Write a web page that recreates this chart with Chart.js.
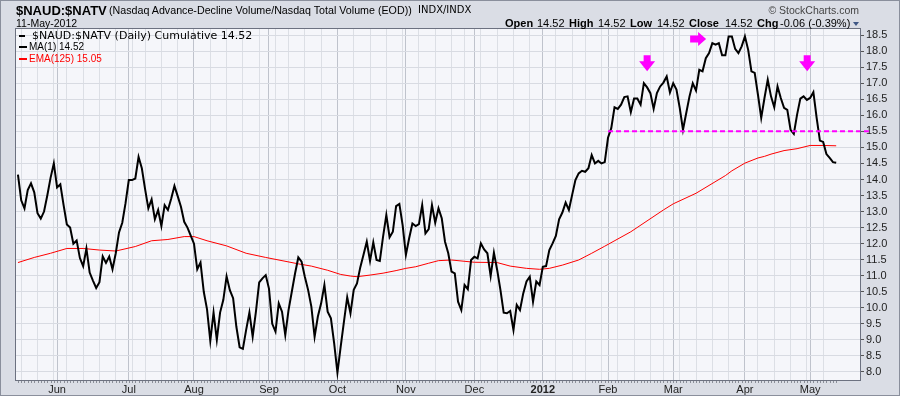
<!DOCTYPE html>
<html><head><meta charset="utf-8">
<script src="https://cdn.jsdelivr.net/npm/chart.js@4.4.1/dist/chart.umd.min.js"></script>
<style>
html,body{margin:0;padding:0;}
body{width:900px;height:396px;overflow:hidden;position:relative;background:#dadde5;font-family:"Liberation Sans",Arial,sans-serif;}
#frame{position:absolute;left:0;top:0;width:898px;height:394px;border:1px solid #8a8f9c;}
canvas{position:absolute;left:0;top:0;display:block;}
.t{position:absolute;white-space:nowrap;color:#000;line-height:1;}
.dash{position:absolute;height:2px;}
</style></head><body>
<div id="frame"></div>
<canvas id="c" width="900" height="396"></canvas>
<div class="t" style="left:16px;top:3.5px;font-size:13px;font-weight:bold">$NAUD:$NATV</div>
<div class="t" style="left:109px;top:4.8px;font-size:10.7px">(Nasdaq Advance-Decline Volume/Nasdaq Total Volume (EOD))</div>
<div class="t" style="left:418px;top:5.2px;font-size:10px;font-family:'DejaVu Sans'">INDX/INDX</div>
<div class="t" style="left:16px;top:18.3px;font-size:10.5px">11-May-2012</div>
<div class="t" style="right:41px;top:4.6px;font-size:10.5px;color:#444">© StockCharts.com</div>
<div class="t" style="left:505px;top:18.4px;font-size:11px;font-weight:bold">Open</div>
<div class="t" style="left:537px;top:18.4px;font-size:11px">14.52</div>
<div class="t" style="left:569px;top:18.4px;font-size:11px;font-weight:bold">High</div>
<div class="t" style="left:598px;top:18.4px;font-size:11px">14.52</div>
<div class="t" style="left:630px;top:18.4px;font-size:11px;font-weight:bold">Low</div>
<div class="t" style="left:657px;top:18.4px;font-size:11px">14.52</div>
<div class="t" style="left:689px;top:18.4px;font-size:11px;font-weight:bold">Close</div>
<div class="t" style="left:725px;top:18.4px;font-size:11px">14.52</div>
<div class="t" style="left:757px;top:18.4px;font-size:11px;font-weight:bold">Chg</div>
<div class="t" style="left:780px;top:18.4px;font-size:11px">-0.06 (-0.39%)</div>
<div style="position:absolute;left:853px;top:22px;width:0;height:0;border-left:3px solid transparent;border-right:3px solid transparent;border-top:4px solid #3f5785;"></div>
<div class="dash" style="left:19px;top:35px;width:6px;background:#000"></div>
<div class="t" style="left:32px;top:30.2px;font-size:11px;font-family:'DejaVu Sans'">$NAUD:$NATV (Daily) Cumulative 14.52</div>
<div class="dash" style="left:19px;top:46px;width:8px;background:#000"></div>
<div class="t" style="left:29px;top:41.7px;font-size:10px">MA(1) 14.52</div>
<div class="dash" style="left:19px;top:58px;width:8px;background:#ff0000"></div>
<div class="t" style="left:29px;top:53.7px;font-size:10px;color:#ff0000">EMA(125) 15.05</div>
<script>
// ---- data (trading-day index 0 = 13-May-2011 ... 251 = 11-May-2012) ----
const values = [
14.15,13.35,13.1,13.67,13.88,13.6,12.95,12.78,13.0,13.5,
14.05,14.5,13.75,13.85,13.2,12.6,12.5,12.0,12.1,11.55,
11.3,11.85,11.1,10.85,10.62,10.8,11.6,11.4,11.6,11.2,
11.7,12.35,12.65,13.26,13.98,13.98,14.03,14.7,14.35,13.7,
13.1,13.38,12.76,13.05,12.55,13.2,13.05,13.4,13.8,13.48,
13.15,12.68,12.5,12.25,12.0,11.2,11.41,10.5,9.95,8.97,
9.85,9.0,9.85,10.25,10.98,10.55,10.3,9.41,8.77,8.72,
9.31,9.85,9.1,9.88,10.79,10.92,11.02,10.6,9.5,9.26,
10.14,9.88,9.15,9.93,10.5,11.07,11.57,11.44,10.97,10.56,
10.04,9.1,9.73,10.14,10.71,9.88,9.67,8.89,7.98,8.79,
9.57,10.33,9.83,10.56,10.76,11.26,11.65,12.06,11.46,12.04,
11.49,11.46,12.22,12.89,12.2,12.37,13.17,13.24,12.58,11.65,
12.17,12.63,12.55,12.61,13.2,12.32,12.45,13.2,12.65,13.1,
12.79,12.06,11.7,11.13,11.07,10.19,9.93,10.71,10.58,11.49,
11.59,11.54,12.01,11.82,11.7,10.99,11.72,11.18,10.56,9.85,
9.83,9.9,9.31,10.09,9.93,10.45,10.82,10.97,10.19,10.82,
10.71,11.28,11.3,11.8,12.01,12.24,12.76,12.97,13.28,13.05,
13.52,13.98,14.19,14.27,14.24,14.35,14.76,14.5,14.58,14.5,
14.54,15.3,15.6,16.25,16.2,16.33,16.57,16.59,16.1,16.52,
16.52,16.33,17.0,16.87,16.69,16.2,16.69,16.9,17.02,17.21,
16.71,17.0,16.8,16.23,15.55,16.07,16.59,17.0,16.77,17.42,
17.37,17.78,17.94,18.25,18.2,18.25,17.87,17.87,18.46,18.46,
18.07,17.94,18.15,18.46,18.04,17.37,17.32,16.64,15.92,16.54,
17.11,16.59,16.25,16.9,16.54,16.23,16.17,15.55,15.42,16.02,
16.52,16.59,16.48,16.54,16.72,15.92,15.21,15.17,14.79,14.67,
14.54,14.52
];
const emaDays = [0,5,10,15,20,25,30,36,41,46,51,54,58,64,70,76,81,86,90,95,99,102,104,108,112,116,119,122,126,129,133,140,147,151,156,160,163,167,172,176,180,188,198,201,208,217,219,223,227,229,231,235,239,243,247,251];
const emaValues = [11.41,11.57,11.70,11.85,11.85,11.80,11.77,11.91,12.09,12.13,12.22,12.22,12.09,11.93,11.70,11.57,11.47,11.37,11.30,11.17,11.04,10.99,10.97,11.02,11.08,11.16,11.23,11.28,11.39,11.47,11.49,11.42,11.41,11.30,11.23,11.20,11.23,11.33,11.49,11.70,11.92,12.37,13.05,13.24,13.57,14.12,14.27,14.51,14.67,14.72,14.79,14.90,14.96,15.06,15.06,15.05];
const monthIdx = [12,34,54,77,98,119,140,161,181,201,223,243];
const monthLabels = ['Jun','Jul','Aug','Sep','Oct','Nov','Dec','2012','Feb','Mar','Apr','May'];
const weekIdx = [1,6,11,15,20,25,30,35,39,44,49,54,59,64,69,74,79,83,88,93,98,103,108,113,118,123,128,133,137,142,147,152,157,161,165,170,174,179,184,189,194,198,203,208,213,218,223,227,232,237,242,247];
const yTicks = [8.0,8.5,9.0,9.5,10.0,10.5,11.0,11.5,12.0,12.5,13.0,13.5,14.0,14.5,15.0,15.5,16.0,16.5,17.0,17.5,18.0,18.5];
const supportLevel = 15.5;
const supportFrom = 181;
const supportTo = 261;
const arrowDays = [193, 211.1, 242.1];
const arrowValues = [17.37, 18.38, 17.37];
const arrowDirs = ['down', 'right', 'down'];

const xTicks = Array.from(new Set(weekIdx.concat(monthIdx))).sort((a,b)=>a-b);

const bgPlugin = {
  id:'bg',
  beforeDraw(chart){
    const {ctx, chartArea:a} = chart;
    ctx.save();
    ctx.fillStyle = '#f5f6fa';
    ctx.fillRect(a.left, a.top, a.right-a.left, a.bottom-a.top);
    ctx.restore();
  },
  afterDraw(chart){
    const {ctx, chartArea:a, scales:{x}} = chart;
    ctx.save();
    ctx.strokeStyle = '#6c7180';
    ctx.lineWidth = 1;
    ctx.strokeRect(a.left-0.5, a.top-0.5, a.right-a.left+1, a.bottom-a.top+1);
    ctx.fillStyle = '#8a8e98';
    for (let i=0;i<values.length;i++){
      const px = Math.round(x.getPixelForValue(i));
      ctx.fillRect(px, a.bottom+1, 1, 2);
    }
    ctx.restore();
  }
};
const arrowPlugin = {
  id:'arrows',
  afterDatasetsDraw(chart){
    const {ctx, scales:{x,y}} = chart;
    ctx.save();
    ctx.fillStyle = '#ff00ff';
    arrowDays.forEach((d,k)=>{
      const px = x.getPixelForValue(d), py = y.getPixelForValue(arrowValues[k]);
      ctx.beginPath();
      if (arrowDirs[k]==='down'){
        ctx.moveTo(px,py); ctx.lineTo(px-8,py-10); ctx.lineTo(px-3.5,py-10); ctx.lineTo(px-3.5,py-16);
        ctx.lineTo(px+3.5,py-16); ctx.lineTo(px+3.5,py-10); ctx.lineTo(px+8,py-10);
      } else {
        ctx.moveTo(px,py); ctx.lineTo(px-8,py-7); ctx.lineTo(px-8,py-3.5); ctx.lineTo(px-16,py-3.5);
        ctx.lineTo(px-16,py+3.5); ctx.lineTo(px-8,py+3.5); ctx.lineTo(px-8,py+7);
      }
      ctx.closePath(); ctx.fill();
    });
    ctx.restore();
  }
};

new Chart(document.getElementById('c'), {
  type:'line',
  data:{datasets:[
    {data:[{x:supportFrom,y:supportLevel},{x:supportTo,y:supportLevel}], borderColor:'#ff00ff', borderWidth:2, borderDash:[5,3], pointRadius:0, clip:false},
    {data:values.map((v,i)=>({x:i,y:v})), borderColor:'#000000', borderWidth:2, pointRadius:0, tension:0},
    {data:emaDays.map((d,k)=>({x:d,y:emaValues[k]})), borderColor:'#ff0000', borderWidth:1, pointRadius:0, tension:0}
  ]},
  options:{
    responsive:false, animation:false, devicePixelRatio:1,
    layout:{padding:{left:16,top:29,right:0,bottom:0}},
    plugins:{legend:{display:false}, tooltip:{enabled:false}},
    scales:{
      x:{type:'linear', min:-0.6, max:258.3,
        afterBuildTicks:s=>{ s.ticks = xTicks.map(v=>({value:v})); },
        afterFit:s=>{ s.height = 16; },
        grid:{color:ctx=> (ctx.tick && monthIdx.includes(ctx.tick.value)) ? '#bfc3cc' : '#dcdfe5', lineWidth:1, drawTicks:false, tickLength:0},
        border:{display:true, color:'#6c7180'},
        ticks:{autoSkip:false, maxRotation:0, padding:3, color:'#222',
          font:ctx=>({family:"'Liberation Sans Narrow','Liberation Sans',Arial", size:11, weight:(ctx.tick && ctx.tick.value===161)?'bold':'normal'}),
          callback:v=>{ const k = monthIdx.indexOf(v); return k>=0 ? monthLabels[k] : ''; }}
      },
      y:{type:'linear', position:'right', min:7.75, max:18.69,
        afterBuildTicks:s=>{ s.ticks = yTicks.map(v=>({value:v})); },
        afterFit:s=>{ s.width = 40; },
        grid:{color:'#d8dbe2', drawTicks:true, tickLength:4, tickColor:'#555'},
        border:{display:true, color:'#6c7180'},
        ticks:{padding:2, color:'#222', font:{family:"'Liberation Sans',Arial", size:11}, callback:v=>v.toFixed(1)}
      }
    }
  },
  plugins:[bgPlugin, arrowPlugin]
});
</script>
</body></html>
